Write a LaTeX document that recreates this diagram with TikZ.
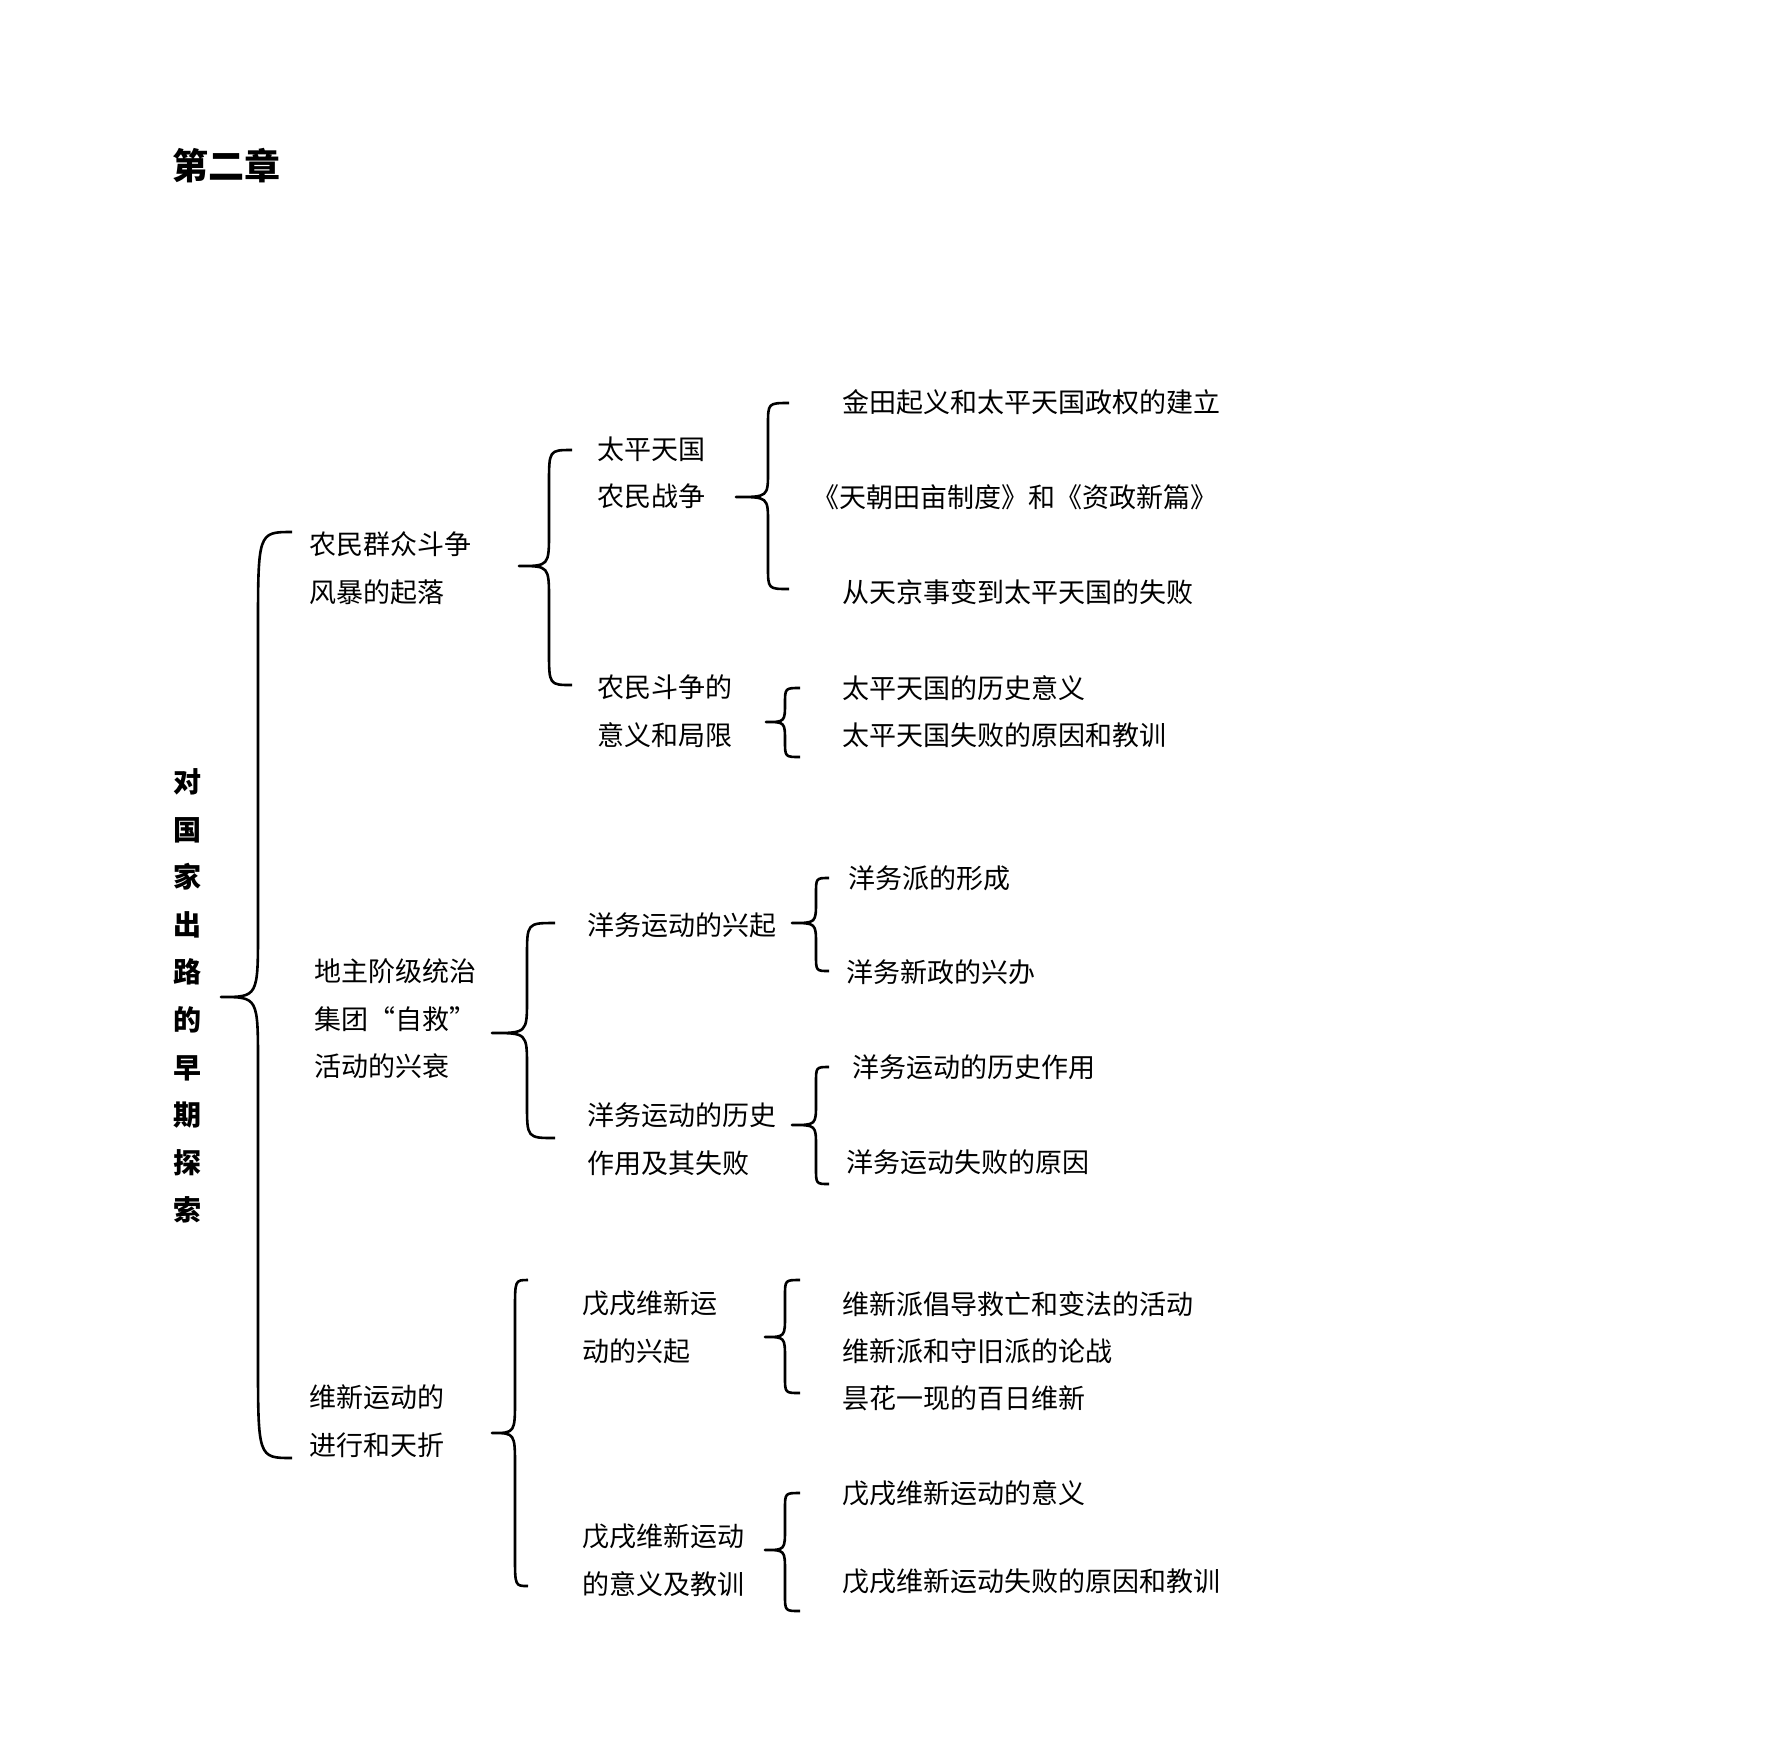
\documentclass[tikz,border=0pt]{standalone}
\usepackage{fontspec}
\setmainfont{Noto Sans CJK SC}
\usepackage{tikz}

% text sizes
\newcommand{\itemfont}{\fontsize{13.5}{23.8}\selectfont}
\newcommand{\chapfont}{\fontsize{18}{20}\selectfont\bfseries}
\newcommand{\titlefont}{\fontsize{14}{23.8}\selectfont\bfseries}

% curly bracket: tip x, tip y, line x, top y, bottom y, end x, end bend, tip bend
\newcommand{\curly}[8]{%
  \draw[bracket] ({#6},{#4}) .. controls ({#3},{#4}) .. ({#3},{#4+#7})
    -- ({#3},{#2-#8}) .. controls ({#3},{#2}) .. ({#1},{#2})
    .. controls ({#3},{#2}) .. ({#3},{#2+#8})
    -- ({#3},{#5-#7}) .. controls ({#3},{#5}) .. ({#6},{#5});
}

\tikzset{
  bracket/.style={line width=1.3pt, line join=round},
  item/.style={anchor=west, align=left, inner sep=0pt, font=\itemfont},
}

\begin{document}
\begin{tikzpicture}[x=0.5pt, y=-0.5pt]
    \useasboundingbox (0,0) rectangle (1776,1752);

    \node[font=\chapfont, inner sep=0pt] (chap) at (226,166) {第二章};
    \node[font=\titlefont, align=center, inner sep=0pt] (root) at (187,996)
      {对\\国\\家\\出\\路\\的\\早\\期\\探\\索};

    % first level
    \curly{221}{997}{258}{532}{1458}{292}{100}{68}
    \node[item] (peasant) at (309,568) {农民群众斗争\\风暴的起落};
    \node[item] (landlord) at (314,1019) {地主阶级统治\\集团“自救”\\活动的兴衰};
    \node[item] (reform) at (309,1421) {维新运动的\\进行和天折};

    % second level
    \curly{519}{566}{549}{450}{685}{572}{34}{34}
    \curly{492}{1033}{527}{923}{1138}{555}{34}{34}
    \curly{492}{1433}{515}{1280}{1586}{528}{30}{34}

    \node[item] (taiping) at (597,473) {太平天国\\农民战争};
    \node[item] (limits) at (597,711) {农民斗争的\\意义和局限};
    \node[item] (wurise) at (587,925) {洋务运动的兴起};
    \node[item] (wurole) at (587,1139) {洋务运动的历史\\作用及其失败};
    \node[item] (wxrise) at (582,1327) {戊戌维新运\\动的兴起};
    \node[item] (wxmean) at (582,1560) {戊戌维新运动\\的意义及教训};

    % third level
    \curly{736}{497}{768}{403}{589}{789}{22}{26}
    \curly{766}{722}{785}{688}{757}{800}{16}{20}
    \curly{792}{923}{816}{878}{971}{829}{16}{22}
    \curly{792}{1125}{816}{1067}{1184}{829}{16}{22}
    \curly{765}{1337}{785}{1280}{1393}{800}{16}{22}
    \curly{765}{1550}{785}{1493}{1611}{800}{16}{22}

    \node[item] (t1) at (842,402) {金田起义和太平天国政权的建立};
    \node[item] (t2) at (812,497) {《天朝田亩制度》和《资政新篇》};
    \node[item] (t3) at (842,592) {从天京事变到太平天国的失败};
    \node[item] (l1) at (842,688) {太平天国的历史意义};
    \node[item] (l2) at (842,735) {太平天国失败的原因和教训};
    \node[item] (r1) at (848,878) {洋务派的形成};
    \node[item] (r2) at (846,972) {洋务新政的兴办};
    \node[item] (f1) at (852,1067) {洋务运动的历史作用};
    \node[item] (f2) at (846,1162) {洋务运动失败的原因};
    \node[item] (w1) at (842,1304) {维新派倡导救亡和变法的活动};
    \node[item] (w2) at (842,1351) {维新派和守旧派的论战};
    \node[item] (w3) at (842,1398) {昙花一现的百日维新};
    \node[item] (m1) at (842,1493) {戊戌维新运动的意义};
    \node[item] (m2) at (842,1581) {戊戌维新运动失败的原因和教训};
\end{tikzpicture}
\end{document}
